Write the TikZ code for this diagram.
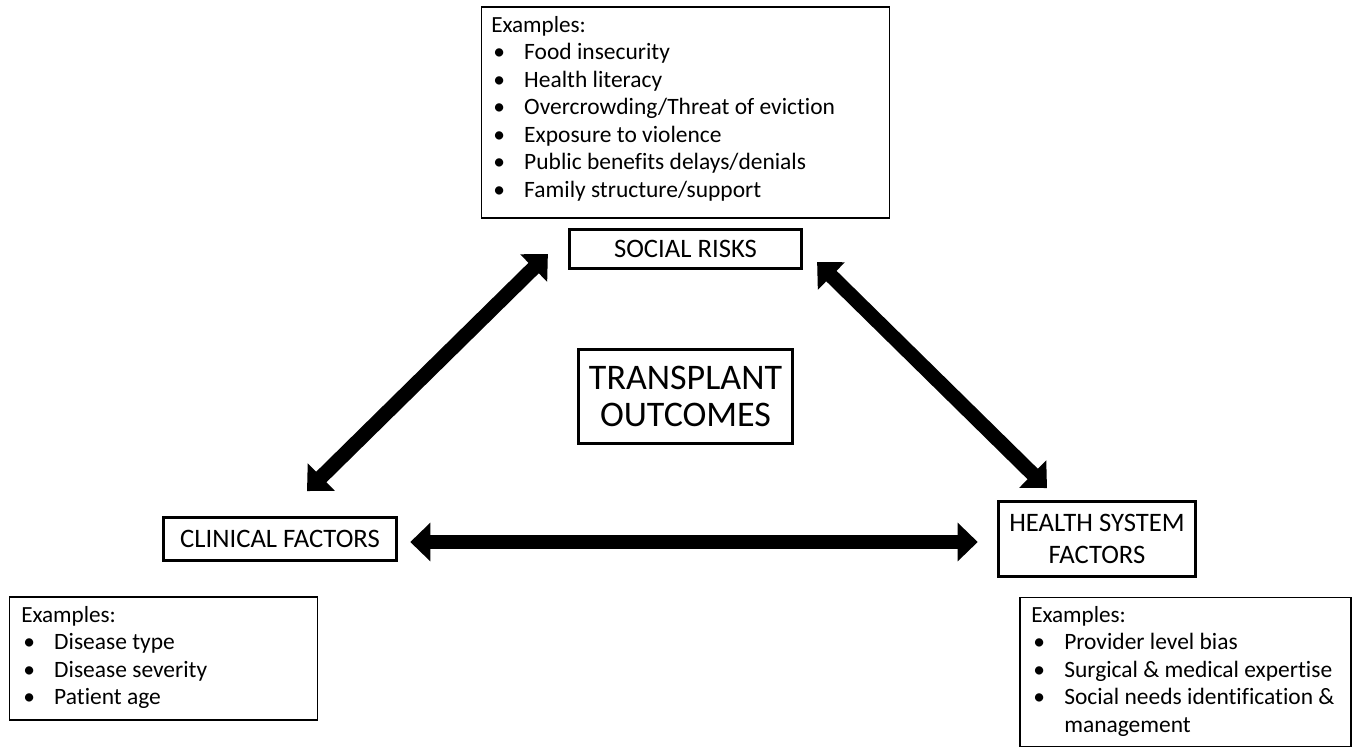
\documentclass[tikz,border=0pt]{standalone}
\usepackage{fontspec}
\usepackage{graphicx}
\setmainfont{Carlito}[Ligatures=CommonOff]
\usetikzlibrary{arrows.meta,calc}
\newcommand{\bul}{\makebox[24.75pt][l]{\hspace*{1.5pt}\textbullet}}
\newcommand{\exhead}{\resizebox{71pt}{!}{Examples:}}
\newcommand{\exlist}[1]{{\fontsize{17.6}{20.6}\selectfont\begin{tabular}{@{}l@{}}#1\end{tabular}}}
\begin{document}
\begin{tikzpicture}[x=0.75pt,y=-0.75pt,
  exbox/.style={draw=black, line width=1.1pt, inner sep=0pt},
  mainbox/.style={draw=black, line width=2.4pt, fill=white, inner sep=0pt, align=center},
  extext/.style={inner sep=0pt, anchor=north west},
  bigarrow/.style={line width=11pt, {Triangle[width=28pt,length=15pt]}-{Triangle[width=28pt,length=15pt]}}]
\useasboundingbox[fill=white] (0,0) rectangle (1356,750);

% example boxes
\node[exbox, minimum width=306pt, minimum height=158pt] (sbox) at (685.5,112.5) {};
\node[exbox, minimum width=231pt, minimum height=92pt] (cbox) at (163.5,658.5) {};
\node[exbox, minimum width=248pt, minimum height=112pt] (hbox) at (1185.5,672) {};

\node[extext] (stext) at (491,13) {\exlist{\exhead\\
\bul Food insecurity\\
\bul Health literacy\\
\bul Overcrowding/Threat of eviction\\
\bul Exposure to violence\\
\bul Public benefits delays/denials\\
\bul Family structure/support}};

\node[extext] (ctext) at (21,603) {\exlist{\exhead\\
\bul Disease type\\
\bul Disease severity\\
\bul Patient age}};

\node[extext] (htext) at (1031,603) {\exlist{\exhead\\
\bul Provider level bias\\
\bul Surgical \& medical expertise\\
\bul Social needs identification \&\\
\hspace*{24.75pt}management}};

% main boxes
\node[mainbox, minimum width=174pt, minimum height=29.5pt, font=\fontsize{20}{24}\selectfont] (social) at (685.5,249) {SOCIAL RISKS};
\node[mainbox, minimum width=160pt, minimum height=70pt, font=\fontsize{27}{28}\selectfont] (outcomes) at (685.5,396.5) {TRANSPLANT\\OUTCOMES};
\node[mainbox, minimum width=175pt, minimum height=32pt, font=\fontsize{20}{24}\selectfont] (clinical) at (280,539) {CLINICAL FACTORS};
\node[mainbox, minimum width=148pt, minimum height=56pt, font=\fontsize{20}{24}\selectfont] (health) at (1097,539) {HEALTH SYSTEM\\FACTORS};

% arrows
\draw[bigarrow] ([shift={(27,-25)}]clinical.north) -- ([shift={(-20,5)}]social.west);
\draw[bigarrow] ([shift={(14,13)}]social.east) -- ([shift={(-50,-12)}]health.north);
\draw[bigarrow] ([shift={(12,3)}]clinical.east) -- ([shift={(-19,3)}]health.west);
\end{tikzpicture}
\end{document}
